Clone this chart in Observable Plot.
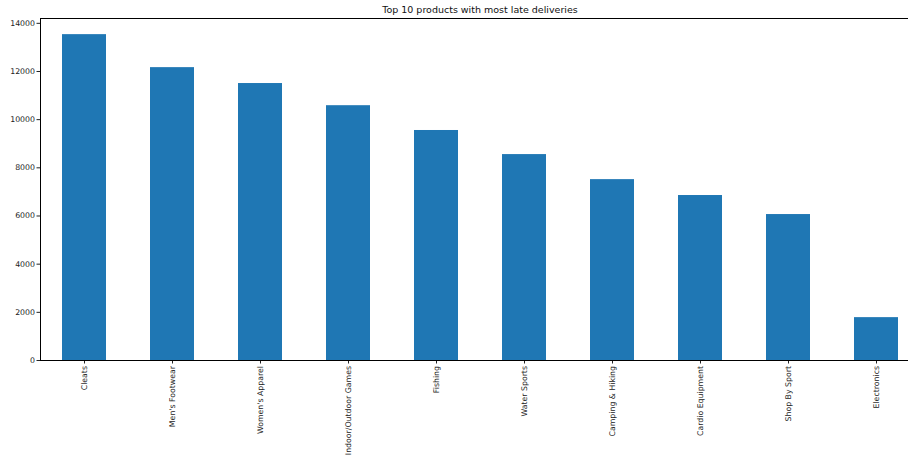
<!DOCTYPE html>
<html>
<head>
<meta charset="utf-8">
<script src="https://cdn.jsdelivr.net/npm/d3@7"></script>
<script src="https://cdn.jsdelivr.net/npm/@observablehq/plot@0.6"></script>
<style>
  html, body { margin: 0; padding: 0; overflow: hidden; background: #fff; }
  #title { width: 880px; margin-left: 40px; height: 18px; line-height: 20px; text-align: center;
           font-family: "DejaVu Sans", sans-serif; font-size: 9.5px; color: #111; }
  #chart svg { max-width: none !important; display: block; }
</style>
</head>
<body>
<div id="title">Top 10 products with most late deliveries</div>
<div id="chart"></div>
<script>
const categories = ["Cleats", "Men's Footwear", "Women's Apparel", "Indoor/Outdoor Games", "Fishing",
  "Water Sports", "Camping & Hiking", "Cardio Equipment", "Shop By Sport", "Electronics"];
const lateCounts = [13530, 12160, 11500, 10580, 9550, 8550, 7510, 6850, 6060, 1780];
const yTicks = [0, 2000, 4000, 6000, 8000, 10000, 12000, 14000];

const data = categories.map((c, i) => ({category: c, value: lateCounts[i]}));

const chart = Plot.plot({
  width: 920,
  height: 440,
  marginTop: 0,
  marginLeft: 40,
  marginRight: 0,
  marginBottom: 98,
  style: {fontFamily: "DejaVu Sans, sans-serif", fontSize: "7.8px", color: "#222", background: "#fff", maxWidth: "none"},
  x: {domain: categories, paddingInner: 0.5, paddingOuter: 0.25, label: null},
  y: {domain: [0, 14200], label: null},
  marks: [
    Plot.barY(data, {x: "category", y: "value", fill: "#1f77b4"}),
    Plot.axisY({ticks: yTicks, tickSize: 3.5, tickPadding: 2, label: null, tickFormat: d => String(d)}),
    Plot.axisX({tickRotate: -90, tickSize: 3.5, tickPadding: 2, label: null}),
    Plot.frame({stroke: "#000", strokeWidth: 1})
  ]
});
document.getElementById("chart").appendChild(chart);
</script>
</body>
</html>
